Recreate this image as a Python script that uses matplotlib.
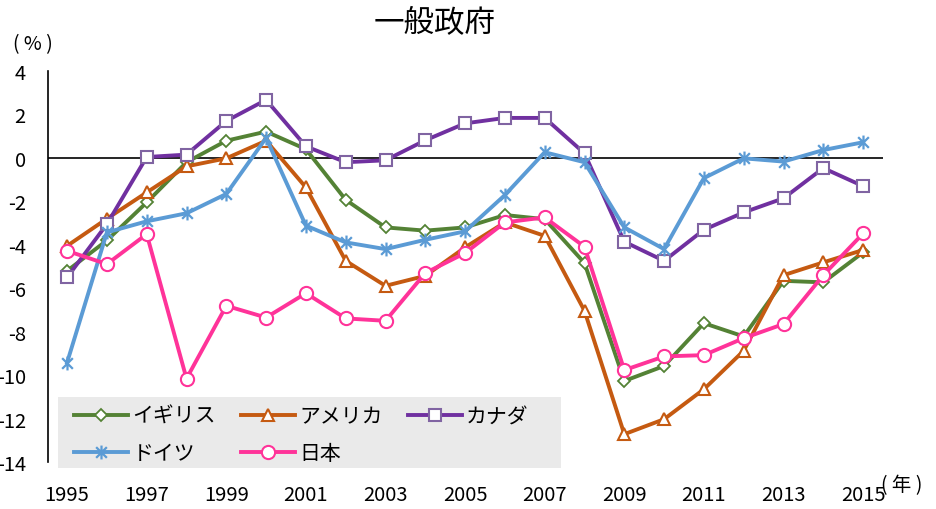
import numpy as np
import matplotlib
matplotlib.use("Agg")
import matplotlib.pyplot as plt
from matplotlib.path import Path
from matplotlib.patches import Rectangle

plt.rcParams['font.family'] = ['Noto Sans CJK JP', 'DejaVu Sans']
plt.rcParams['axes.unicode_minus'] = False

# data (general government balance, % of GDP)
years = list(range(1995, 2016))
uk = [-5.2, -3.8, -2.05, -0.2, 0.79, 1.21, 0.4, -1.93, -3.2, -3.35, -3.2, -2.63, -2.82,
      -4.84, -10.27, -9.58, -7.61, -8.22, -5.66, -5.73, -4.35]
usa = [-4.05, -2.8, -1.59, -0.39, -0.02, 0.79, -1.36, -4.74, -5.89, -5.43, -4.12, -2.97, -3.59,
       -7.04, -12.72, -12.03, -10.65, -8.88, -5.4, -4.81, -4.24]
canada = [-5.5, -3.05, 0.04, 0.15, 1.7, 2.67, 0.53, -0.2, -0.11, 0.81, 1.59, 1.84, 1.84,
          0.21, -3.86, -4.74, -3.31, -2.51, -1.86, -0.47, -1.3]
germany = [-9.42, -3.43, -2.92, -2.55, -1.66, 0.92, -3.12, -3.89, -4.2, -3.77, -3.38, -1.71, 0.26,
           -0.2, -3.2, -4.2, -0.93, -0.02, -0.17, 0.36, 0.72]
japan = [-4.28, -4.89, -3.51, -10.16, -6.81, -7.35, -6.23, -7.39, -7.5, -5.3, -4.38, -2.97, -2.74,
         -4.09, -9.77, -9.14, -9.08, -8.3, -7.65, -5.4, -3.48]

labels = ['イギリス', 'アメリカ', 'カナダ', 'ドイツ', '日本']
xticks = list(range(1995, 2016, 2))
yticks = list(range(-14, 5, 2))

# Excel-like star marker: x plus vertical bar
star = Path([(-1, -1), (1, 1), (-1, 1), (1, -1), (0, -1.3), (0, 1.3)],
            [Path.MOVETO, Path.LINETO, Path.MOVETO, Path.LINETO, Path.MOVETO, Path.LINETO])

fig = plt.figure(figsize=(9.37, 5.10), dpi=100)
ax = fig.add_axes([48 / 937, 1 - 463 / 510, (883 - 48) / 937, (463 - 72) / 510])

lw = 2.8
l_uk, = ax.plot(years, uk, color='#548235', lw=lw, marker='D', ms=6.5, mfc='white', mec='#548235', mew=1.3, label=labels[0])
l_us, = ax.plot(years, usa, color='#C55A11', lw=lw, marker='^', ms=9, mfc='white', mec='#C55A11', mew=1.5, label=labels[1])
l_ca, = ax.plot(years, canada, color='#7030A0', lw=lw, marker='s', ms=9, mfc='white', mec='#8064A2', mew=1.5, label=labels[2])
l_de, = ax.plot(years, germany, color='#5B9BD5', lw=lw, marker=star, ms=10, mec='#5B9BD5', mew=1.6, label=labels[3])
l_jp, = ax.plot(years, japan, color='#FF3399', lw=lw, marker='o', ms=9.5, mfc='white', mec='#FF3399', mew=1.5, label=labels[4])

ax.axhline(0, color='black', lw=1.2, zorder=1)
ax.set_xlim(1994.52, 2015.5)
ax.set_ylim(-14, 4)
ax.set_xticks(xticks)
ax.set_xticklabels([str(y) for y in xticks], fontsize=14.5)
ax.set_yticks(yticks)
ax.set_yticklabels([str(v) for v in yticks], fontsize=14.5)
ax.tick_params(axis='both', length=0)
ax.tick_params(axis='x', pad=16)
ax.tick_params(axis='y', pad=16)
for s in ['top', 'right', 'bottom']:
    ax.spines[s].set_visible(False)
ax.spines['left'].set_linewidth(1.2)

# legend background box
ax.add_patch(Rectangle((58 / 937, 1 - 469 / 510), (561 - 58) / 937, (469 - 398) / 510,
                       transform=fig.transFigure, facecolor='#EAEAEA', edgecolor='none',
                       zorder=0.5, clip_on=False))
# column-major fill -> order so rows read UK, USA, Canada / Germany, Japan
handles = [l_uk, l_de, l_us, l_jp, l_ca]
leg = fig.legend(handles, [h.get_label() for h in handles], ncol=3, loc='upper left',
                 bbox_to_anchor=(70 / 937, 1 - 402 / 510),
                 frameon=False, fontsize=15, handlelength=2.6, handletextpad=0.2, columnspacing=1.2,
                 labelspacing=0.72, borderaxespad=0, borderpad=0.2)

fig.text(435 / 937, 1 - 23 / 510, '一般政府', ha='center', va='center', fontsize=22)
fig.text(13 / 937, 1 - 45 / 510, '( % )', ha='left', va='center', fontsize=14)
fig.text(881 / 937, 1 - 486 / 510, '( 年 )', ha='left', va='center', fontsize=14)

fig.savefig('out.png', dpi=100)
